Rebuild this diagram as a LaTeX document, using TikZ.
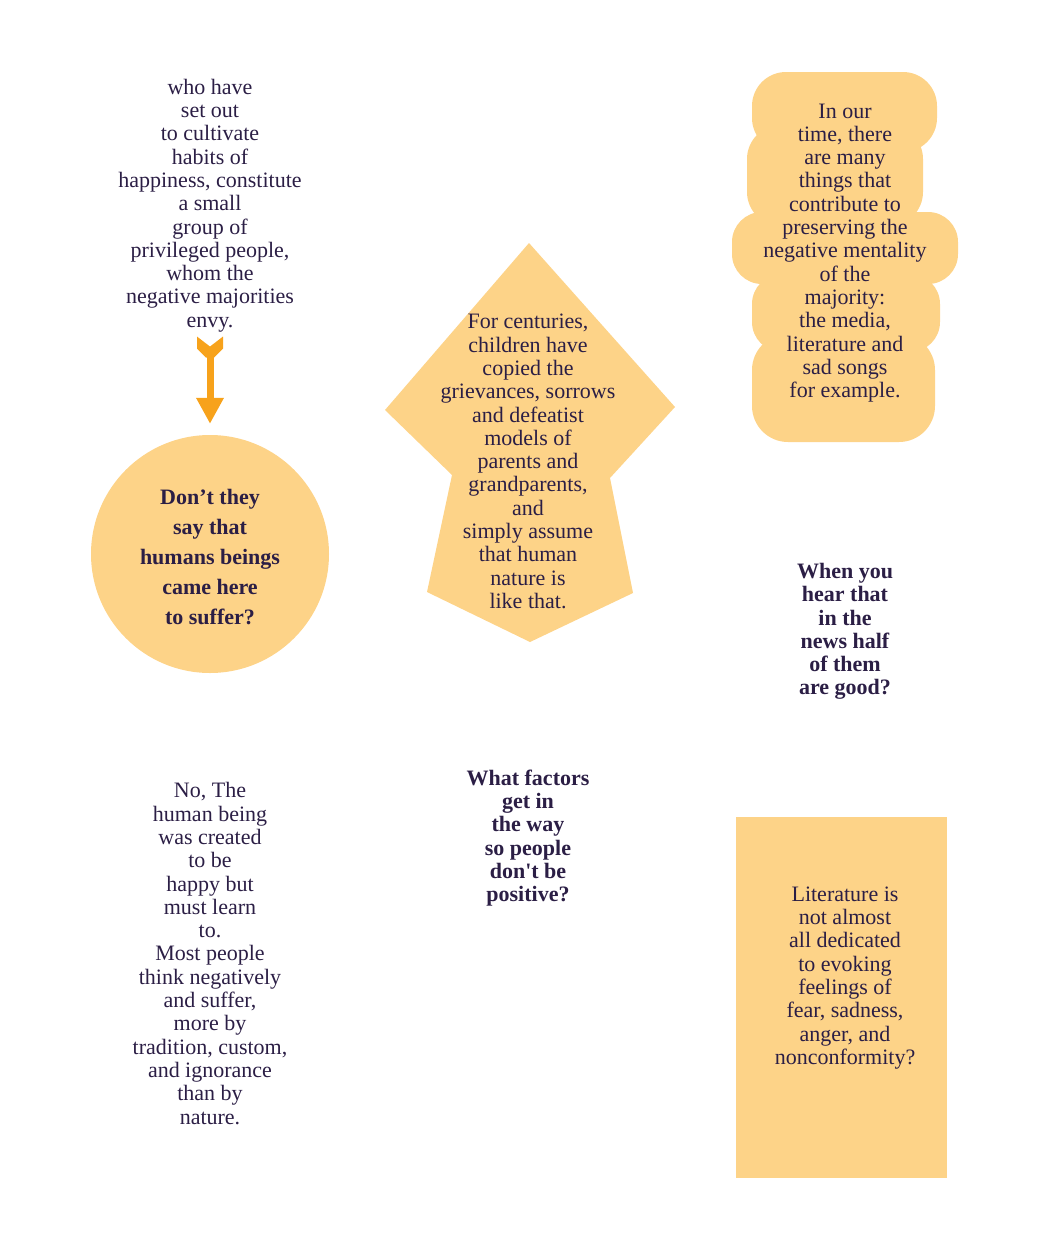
\documentclass[tikz,border=0pt]{standalone}
\usepackage{fontspec}
\setmainfont{Liberation Serif}[Ligatures=TeXOff]
\usepackage{tikz}
\usetikzlibrary{arrows.meta}
\definecolor{NPPeach}{HTML}{FDD388}
\definecolor{NPOrange}{HTML}{F7A21B}
\definecolor{NPInk}{HTML}{2B1E45}
\tikzset{
  note/.style={align=center,text=NPInk,font=\fontsize{22}{23.3}\selectfont},
  ask/.style={note,font=\fontsize{22}{23.3}\selectfont\bfseries},
  patch/.style={fill=NPPeach}
}
\begin{document}
\begin{tikzpicture}[x=1pt,y=-1pt]
\path[use as bounding box] (0,0) rectangle (1050,1250);
\fill[NPPeach,rounded corners=34pt] (752,72) rectangle (937,152);
\fill[NPPeach,rounded corners=34pt] (747,125) rectangle (923,226);
\fill[NPPeach,rounded corners=30pt] (732,212) rectangle (958,284);
\fill[NPPeach,rounded corners=30pt] (752,274) rectangle (940,352);
\fill[NPPeach,rounded corners=36pt] (752,334) rectangle (935,442);
\fill[NPPeach] (529,243) -- (675,407) -- (610,478) -- (633,593) -- (530,642) -- (427,592) -- (452,475) -- (385,410) -- cycle;
\node[note] (privileged) at (210,205.5) {who have\\set out\\to cultivate\\habits of\\happiness, constitute\\a small\\group of\\privileged people,\\whom the\\negative majorities\\envy.};
\node[circle,patch,minimum size=238pt,inner sep=0pt] (suffer) at (210,554) {};
\node[note,font=\fontsize{22}{30}\selectfont\bfseries] (suffertext) at (210,557) {Don’t they\\say that\\humans beings\\came here\\to suffer?};
\coordinate (tail) at ([yshift=-1pt]privileged.south);
\fill[NPOrange] (tail) ++(-13,0) -- ++(13,10) -- ++(13,-10) -- ++(0,12) -- ++(-9,9) -- ++(-8,0) -- ++(-9,-9) -- cycle;
\draw[NPOrange,line width=7pt,-{Triangle[length=26pt,width=26pt]},shorten <=14pt,shorten >=11pt] (tail) -- (suffer);
\node[note] (centuries) at (528,461.5) {For centuries,\\children have\\copied the\\grievances, sorrows\\and defeatist\\models of\\parents and\\grandparents,\\and\\simply assume\\that human\\nature is\\like that.};
\node[note] (mentality) at (845,253) {In our\\time, there\\are many\\things that\\contribute to\\preserving the\\negative mentality\\of the\\majority:\\the media,\\literature and\\sad songs\\for example.};
\node[ask] (news) at (845,631.5) {When you\\hear that\\in the\\news half\\of them\\are good?};
\node[ask] (factors) at (528,838) {What factors\\get in\\the way\\so people\\don't be\\positive?};
\node[note] (created) at (210,953.5) {No, The\\human being\\was created\\to be\\happy but\\must learn\\to.\\Most people\\think negatively\\and suffer,\\more by\\tradition, custom,\\and ignorance\\than by\\nature.};
\node[patch,minimum width=211pt,minimum height=361pt] (litbox) at (841.5,997.5) {};
\node[note] (literature) at (845,978) {Literature is\\not almost\\all dedicated\\to evoking\\feelings of\\fear, sadness,\\anger, and\\nonconformity?};
\end{tikzpicture}
\end{document}
